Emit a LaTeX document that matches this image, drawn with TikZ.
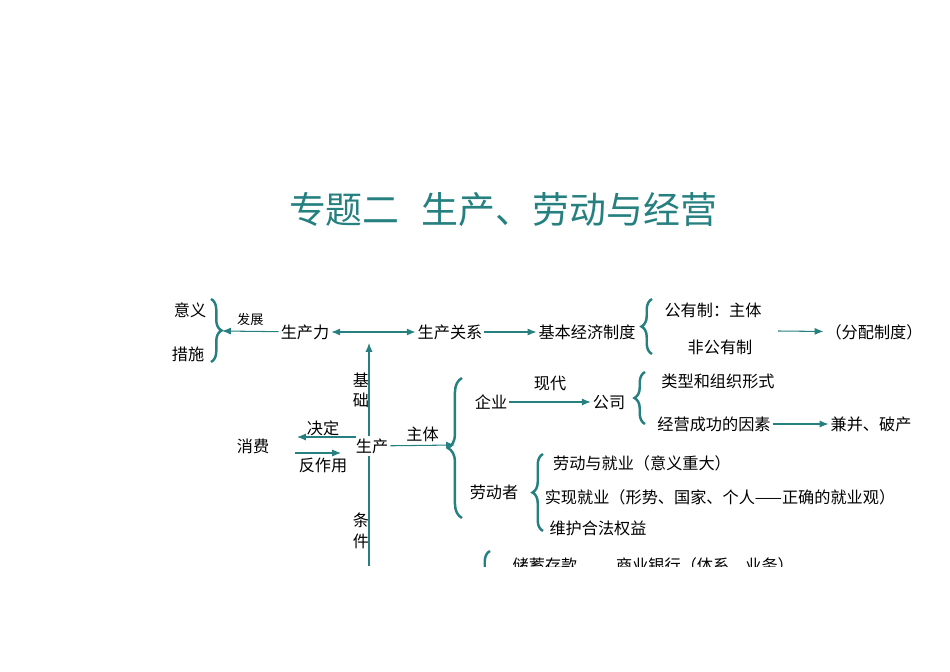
\documentclass[tikz,border=0pt]{standalone}
\usepackage{fontspec}
\setmainfont{Noto Sans CJK SC}
\usetikzlibrary{decorations.pathreplacing, arrows.meta}
\definecolor{myteal}{RGB}{38,128,128}

\begin{document}
\begin{tikzpicture}[x=0.02cm, y=-0.02cm]
	\tikzset{txt/.style={inner sep=1pt, text=black, font=\fontsize{9.2}{11}\selectfont}}
	\tikzset{small/.style={inner sep=1pt, text=black, font=\fontsize{7.5}{9}\selectfont}}
	\tikzset{edge/.style={-{Latex[length=5pt,width=4pt]}, myteal, semithick}}
	\tikzset{kuo/.style={decorate, decoration={brace, amplitude=6pt}, myteal, line width=1.4pt}}
	
	\useasboundingbox (0,0) rectangle (950,672);
	
	\node(title) at (503,210) [font=\fontsize{21}{25}\selectfont, text=myteal] {专题二\hspace{0.6em}生产、劳动与经营};
	
	% top row
	\node(yiyi) at (190,310) [txt] {意义};
	\node(cuoshi) at (188,354) [txt] {措施};
	\node(scl) at (305,332) [txt] {生产力};
	\node(scgx) at (450,332) [txt] {生产关系};
	\node(jbjj) at (587,332) [txt] {基本经济制度};
	\node(gyz) at (713,310) [txt] {公有制：主体};
	\node(fgyz) at (720,347) [txt] {非公有制};
	\node(fpzd) at (874,332) [txt] {（分配制度）};
	
	\coordinate(k1_tip) at (222,331);
	\draw[kuo] (211,299) -- (211,362);
	\draw[kuo] (652,354) -- (652,299);
	
	\draw[edge] (scl) -- (k1_tip) node[midway, above=2pt, small] {发展};
	\draw[edge, {Latex[length=5pt,width=4pt]}-{Latex[length=5pt,width=4pt]}] (scl) -- (scgx);
	\draw[edge] (scgx) -- (jbjj);
	\coordinate(gy_a) at (778,331);
	\draw[edge] (gy_a) -- (fpzd);
	
	% shengchan
	\node(sc) at (372,446) [txt] {生产};
	\node(xf) at (253,446) [txt] {消费};
	\node(jd) at (323,428) [txt] {决定};
	\node(fzy) at (323,465) [txt] {反作用};
	\node(ji) at (361,380) [txt] {基};
	\node(chu) at (361,400) [txt] {础};
	\node(tiao) at (361,520) [txt] {条};
	\node(jian) at (361,541) [txt] {件};
	
	\coordinate(v_top) at (369,343);
	\coordinate(v_bot) at (369,566);
	\draw[edge] (v_bot |- sc.north) -- (v_top);
	\draw[myteal, semithick] (v_bot) -- (v_bot |- sc.south);
	
	\coordinate(jd_r) at (356,437);
	\coordinate(jd_l) at (297,437);
	\coordinate(fz_l) at (295,453);
	\coordinate(fz_r) at (341,453);
	\draw[edge] (jd_r) -- (jd_l);
	\draw[edge] (fz_l) -- (fz_r);
	
	\coordinate(k2_tip) at (455,445);
	\draw[kuo, decoration={amplitude=8pt}] (462,518) -- (462,378);
	\draw[edge] (sc) -- (k2_tip) node[midway, above=1pt, txt] {主体};
	
	% qiye
	\node(qy) at (491,402) [txt] {企业};
	\node(gs) at (609,402) [txt] {公司};
	\node(lx) at (718,381) [txt] {类型和组织形式};
	\node(jy) at (714,424) [txt] {经营成功的因素};
	\node(jbpc) at (871,424) [txt] {兼并、破产};
	
	\draw[edge] (qy) -- (gs) node[midway, above=5pt, txt] {现代};
	\draw[kuo] (645,424) -- (645,372);
	\draw[edge] (jy) -- (jbpc);
	
	% laodongzhe
	\node(ldz) at (494,492) [txt] {劳动者};
	\node(ldjy) at (642,463) [txt] {劳动与就业（意义重大）};
	\node(sxjy) at (720,497) [txt] {实现就业（形势、国家、个人——正确的就业观）};
	\node(whqy) at (598,528) [txt] {维护合法权益};
	\draw[kuo] (543,531) -- (543,454);
	
	% bottom, cut off
	\begin{scope}
		\clip (0,0) rectangle (950,566);
		\draw[kuo] (490,640) -- (490,551);
		\node(cxck) at (545,565) [txt] {储蓄存款};
		\node(syyh) at (705,565) [txt] {商业银行（体系、业务）};
	\end{scope}
	
\end{tikzpicture}
\end{document}
